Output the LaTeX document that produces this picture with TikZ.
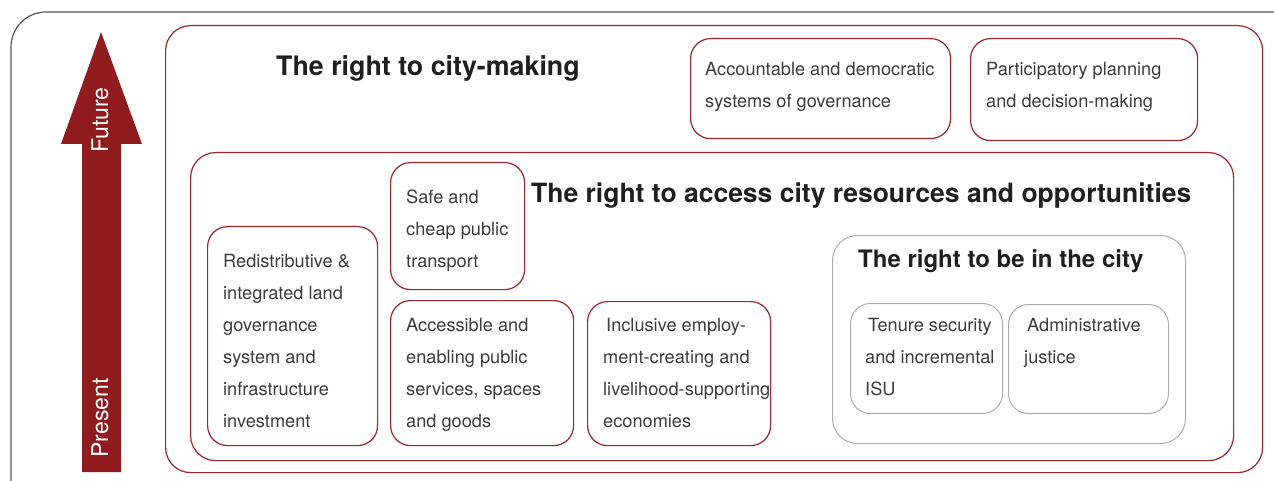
\documentclass[tikz,border=0pt]{standalone}
\usepackage{fontspec}
\setmainfont{TeX Gyre Heros}
\usetikzlibrary{positioning}
\definecolor{arrowred}{RGB}{143,27,31}
\definecolor{boxred}{RGB}{160,36,43}
\definecolor{boxgray}{RGB}{172,172,172}
\definecolor{framegray}{RGB}{85,85,85}
\definecolor{txtgray}{RGB}{60,60,60}

\begin{document}
\begin{tikzpicture}[x=1pt,y=-1pt,
    redbox/.style={draw=boxred, line width=1.2pt, rounded corners=20pt, inner sep=0pt, anchor=north west},
    graybox/.style={redbox, draw=boxgray, line width=1pt},
    txt/.style={anchor=north west, inner sep=0pt, align=left, text=txtgray, font=\fontsize{18.2}{32}\selectfont},
    headtxt/.style={anchor=base west, inner sep=0pt, text=black!88, font=\fontsize{26.8}{30}\selectfont\bfseries},
    timelbl/.style={rotate=90, text=white, inner sep=0pt, font=\fontsize{23}{28}\selectfont}]
  \useasboundingbox (0,0) rectangle (1274,481);
  \clip (0,0) rectangle (1274,481);
  % outer frame
  \draw[framegray, line width=1.2pt, rounded corners=35pt] (11,12) rectangle (1330,540);
  % time arrow
  \fill[arrowred] (82,472) -- (82,144) -- (61,144) -- (101,32) -- (142,144) -- (121,144) -- (121,472) -- cycle;
  \node[timelbl] (future) at (100,120) {Future};
  \node[timelbl] (present) at (100,418) {Present};
  % nested boxes
  \node[redbox, rounded corners=25pt, minimum width=1097pt, minimum height=447pt] (making) at (165,25) {};
  \node[redbox, rounded corners=25pt, minimum width=1043pt, minimum height=308pt] (access) at (190,152) {};
  \node[graybox, rounded corners=25pt, minimum width=353pt, minimum height=208pt] (incity) at (832,235) {};
  \foreach \name/\x/\y/\w/\h in {acct/690/38/260/100, partic/970/38/227/102,
      safe/390/162/134/127, redis/207/226/170/219, accs/390/300/183/145, incl/587/301/183/144}{
    \node[redbox, minimum width=\w pt, minimum height=\h pt] (\name) at (\x,\y) {};
  }
  \foreach \name/\x/\y/\w/\h in {tenure/850/303/152/110, admin/1008/304/160/109}{
    \node[graybox, minimum width=\w pt, minimum height=\h pt] (\name) at (\x,\y) {};
  }
  % headings
  \node[headtxt] (making-h) at (276,76) {The right to city-making};
  \node[headtxt, font=\fontsize{26.5}{30}\selectfont\bfseries] (access-h) at (531,203) {The right to access city resources and opportunities};
  \node[headtxt, font=\fontsize{24}{30}\selectfont\bfseries] (incity-h) at (858,267) {The right to be in the city};
  % texts
  \node[txt] (acct-t) at (705,62) {Accountable and democratic\\systems of governance};
  \node[txt] (partic-t) at (986,62) {Participatory planning\\and decision-making};
  \node[txt] (safe-t) at (406,190) {Safe and\\cheap public\\transport};
  \node[txt] (redis-t) at (223,254) {Redistributive \&\\integrated land\\governance\\system and\\infrastructure\\investment};
  \node[txt] (accs-t) at (406,318) {Accessible and\\enabling public\\services, spaces\\and goods};
  \node[txt] (incl-t) at (603,318) {\hspace*{3pt}Inclusive employ-\\ment-creating and\\livelihood-supporting\\economies};
  \node[txt] (tenure-t) at (865,318) {\hspace*{3pt}Tenure security\\and incremental\\ISU};
  \node[txt] (admin-t) at (1024,318) {\hspace*{3pt}Administrative\\justice};
\end{tikzpicture}
\end{document}
